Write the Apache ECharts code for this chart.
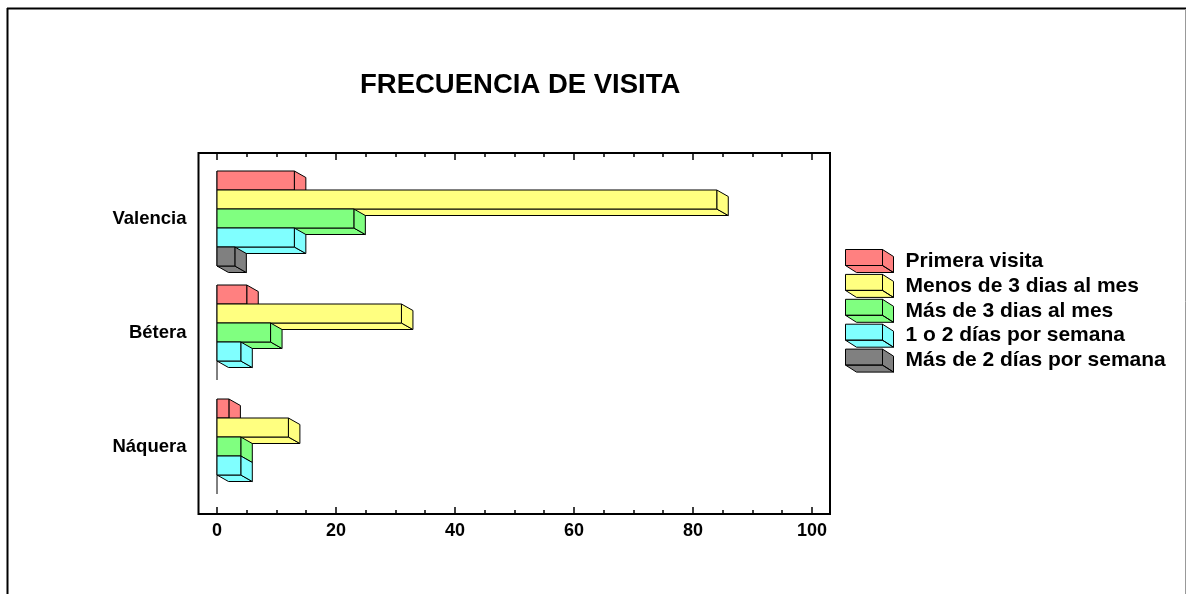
<!DOCTYPE html>
<html>
<head>
<meta charset="utf-8">
<script src="https://cdn.jsdelivr.net/npm/echarts@6/dist/echarts.min.js"></script>
<style>
  html, body { margin: 0; padding: 0; background: #fff; }
  #chart { width: 1187px; height: 594px; }
</style>
</head>
<body>
<div id="chart"></div>
<script>
// Visit frequency by town, counts per answer
const categories = ['Valencia', 'Bétera', 'Náquera'];
const seriesNames = [
  'Primera visita',
  'Menos de 3 dias al mes',
  'Más de 3 dias al mes',
  '1 o 2 días por semana',
  'Más de 2 días por semana'
];
const primeraVisita = [13, 5, 2];
const menosDe3DiasMes = [84, 31, 12];
const masDe3DiasMes = [23, 9, 4];
const unoODosDiasSemana = [13, 4, 4];
const masDe2DiasSemana = [3, 0, 0];
const seriesValues = [primeraVisita, menosDe3DiasMes, masDe3DiasMes, unoODosDiasSemana, masDe2DiasSemana];
const seriesColors = ['#FF8080', '#FFFF80', '#80FF80', '#80FFFF', '#808080'];
const xMajorTicks = [0, 20, 40, 60, 80, 100];
const xMinorTicks = [5, 10, 15, 25, 30, 35, 45, 50, 55, 65, 70, 75, 85, 90, 95];

const FONT = '"Liberation Sans", Arial, Helvetica, sans-serif';
const BAR_COUNT = seriesNames.length;
const DEPTH_X = 11.5, DEPTH_Y = 6.5;

// one 3D bar: front face, right side face, bottom face
function renderBar(params, api) {
  const v = api.value(0);
  if (!v) return null;
  const ci = api.value(1);
  const slot = params.seriesIndex - 1;
  const band = Math.abs(api.size([0, 1])[1]);
  const h = band / 6;
  const p0 = api.coord([0, ci]);
  const p1 = api.coord([v, ci]);
  const top = p0[1] - (BAR_COUNT / 2) * h + slot * h;
  const x0 = p0[0], x1 = p1[0];
  const style = { fill: api.visual('color'), stroke: '#000', lineWidth: 1 };
  return {
    type: 'group',
    children: [
      { type: 'polygon', shape: { points: [[x0, top + h], [x1, top + h], [x1 + DEPTH_X, top + h + DEPTH_Y], [x0 + DEPTH_X, top + h + DEPTH_Y]] }, style },
      { type: 'polygon', shape: { points: [[x1, top], [x1 + DEPTH_X, top + DEPTH_Y], [x1 + DEPTH_X, top + h + DEPTH_Y], [x1, top + h]] }, style },
      { type: 'rect', shape: { x: x0, y: top, width: x1 - x0, height: h }, style }
    ]
  };
}

// zero baseline spanning each category's bar slots
function renderBaseline(params, api) {
  const ci = api.value(1);
  const band = Math.abs(api.size([0, 1])[1]);
  const h = band / 6;
  const p0 = api.coord([0, ci]);
  return {
    type: 'line',
    shape: { x1: p0[0], y1: p0[1] - (BAR_COUNT / 2) * h, x2: p0[0], y2: p0[1] + (BAR_COUNT / 2) * h },
    style: { stroke: '#000', lineWidth: 1 }
  };
}

const X_MIN = -3.11, X_MAX = 103.03;
function xAxisDef(position, ticks, len, labels) {
  return {
    type: 'value', min: X_MIN, max: X_MAX, position: position,
    axisLine: { show: false, onZero: false },
    splitLine: { show: false },
    axisTick: { show: true, inside: true, length: len, customValues: ticks, lineStyle: { color: '#000', width: 1.5 } },
    axisLabel: labels ? { show: true, customValues: xMajorTicks, margin: 8, color: '#000', fontSize: 18, fontWeight: 'bold', fontFamily: FONT } : { show: false }
  };
}

const series = [{
  type: 'custom',
  name: '__baseline',
  renderItem: renderBaseline,
  data: categories.map((c, i) => [0, i]),
  silent: true
}];
seriesNames.forEach((name, j) => {
  series.push({
    type: 'custom',
    name: name,
    renderItem: renderBar,
    itemStyle: { color: seriesColors[j] },
    data: seriesValues[j].map((v, i) => [v, i])
  });
});

const chart = echarts.init(document.getElementById('chart'));
chart.setOption({
  animation: false,
  backgroundColor: '#fff',
  title: {
    text: 'FRECUENCIA DE VISITA',
    left: 355, top: 66,
    textStyle: { color: '#000', fontSize: 27.5, fontWeight: 'bold', fontFamily: FONT }
  },
  legend: {
    data: seriesNames,
    orient: 'vertical',
    left: 845, top: 249,
    padding: 0,
    itemWidth: 48, itemHeight: 23, itemGap: 0.9,
    icon: 'path://M0,0L37,0L37,16L0,16ZM37,0L48,7L48,23L37,16ZM0,16L37,16L48,23L11,23Z',
    itemStyle: { borderColor: '#000', borderWidth: 1 },
    textStyle: { color: '#000', fontSize: 21, lineHeight: 22, fontWeight: 'bold', fontFamily: FONT, padding: [0, 0, 0, 7] },
    selectedMode: false
  },
  grid: {
    left: 198.5, right: 357, top: 153, bottom: 80,
    show: true, borderColor: '#000', borderWidth: 2, backgroundColor: 'transparent'
  },
  xAxis: [
    xAxisDef('bottom', xMajorTicks, 7, true),
    xAxisDef('bottom', xMinorTicks, 4, false),
    xAxisDef('top', xMajorTicks, 7, false),
    xAxisDef('top', xMinorTicks, 4, false)
  ],
  yAxis: {
    type: 'value', inverse: true, min: -0.5746, max: 2.592,
    axisLine: { show: false, onZero: false }, axisTick: { show: false }, splitLine: { show: false },
    axisLabel: {
      customValues: categories.map((c, i) => i),
      formatter: v => categories[v],
      margin: 12, color: '#000', fontSize: 18.5, fontWeight: 'bold', fontFamily: FONT
    }
  },
  graphic: [
    { type: 'line', shape: { x1: 7, y1: 8.5, x2: 1186, y2: 8.5 }, style: { stroke: '#000', lineWidth: 2 } },
    { type: 'line', shape: { x1: 7.5, y1: 8, x2: 7.5, y2: 594 }, style: { stroke: '#000', lineWidth: 2 } },
    { type: 'line', shape: { x1: 1185.5, y1: 9, x2: 1185.5, y2: 594 }, style: { stroke: '#999', lineWidth: 1 } }
  ],
  series: series
});
</script>
</body>
</html>
